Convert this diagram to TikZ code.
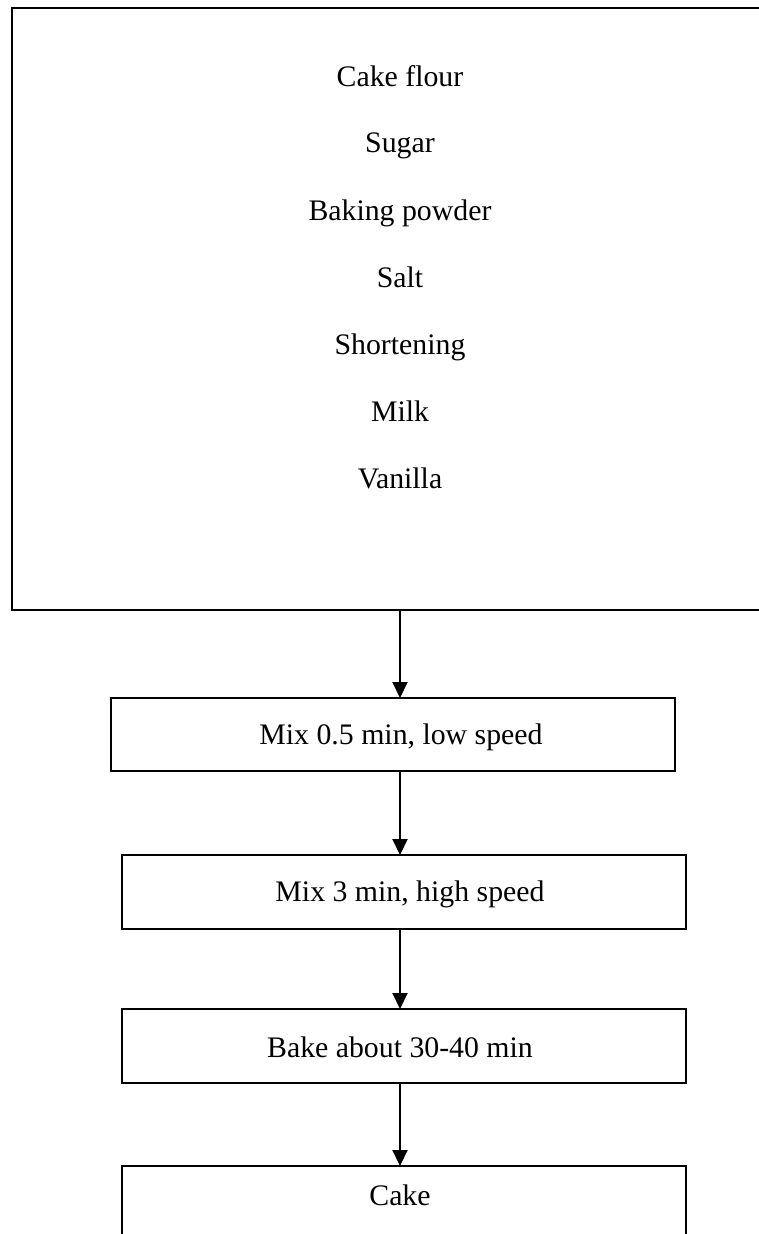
\documentclass[tikz,border=0pt]{standalone}
\usepackage{fontspec}
\setmainfont{Liberation Serif}
\usetikzlibrary{arrows.meta}
\begin{document}
\begin{tikzpicture}[x=1pt,y=-1pt,
  box/.style={draw=black, line width=2pt, inner sep=0pt, outer sep=0pt, fill=none},
  txt/.style={anchor=base, inner sep=0pt, font=\fontsize{29.8}{34}\selectfont},
  arr/.style={line width=2pt, -{Triangle[length=16pt,width=15pt]}}]
\useasboundingbox (0,0) rectangle (758,1234);
\node[box, minimum width=760pt, minimum height=602pt] (top) at (392,309) {};
\node[txt] (i1) at (400,86) {Cake flour};
\node[txt] (i2) at (400,152) {Sugar};
\node[txt] (i3) at (400,220) {Baking powder};
\node[txt] (i4) at (400,287) {Salt};
\node[txt] (i5) at (400,354) {Shortening};
\node[txt] (i6) at (400,421) {Milk};
\node[txt] (i7) at (400,488) {Vanilla};
\node[box, minimum width=564pt, minimum height=73pt] (b1) at (393,734.5) {};
\node[txt] (t1) at (401,744) {Mix 0.5 min, low speed};
\node[box, minimum width=564pt, minimum height=74pt] (b2) at (404,892) {};
\node[txt] (t2) at (410,901) {Mix 3 min, high speed};
\node[box, minimum width=564pt, minimum height=74pt] (b3) at (404,1046) {};
\node[txt] (t3) at (400,1057) {Bake about 30-40 min};
\node[box, minimum width=564pt, minimum height=100pt] (b4) at (404,1216) {};
\node[txt] (t4) at (400,1205) {Cake};
\coordinate (ax) at (400,0);
\draw[arr] (top.south -| ax) -- (b1.north -| ax);
\draw[arr] (b1.south -| ax) -- (b2.north -| ax);
\draw[arr] (b2.south -| ax) -- (b3.north -| ax);
\draw[arr] (b3.south -| ax) -- (b4.north -| ax);
\end{tikzpicture}
\end{document}
